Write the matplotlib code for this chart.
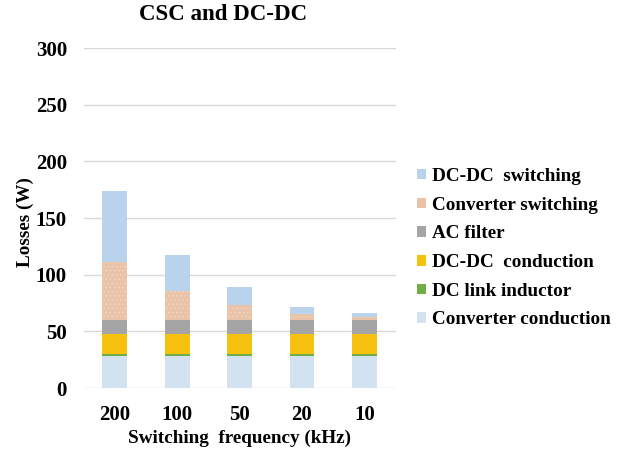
import matplotlib.pyplot as plt
from matplotlib.patches import Patch
import numpy as np

plt.rcParams['font.family'] = ['Liberation Serif', 'DejaVu Serif']
plt.rcParams['font.weight'] = 'bold'
plt.rcParams['hatch.linewidth'] = 0.6

frequencies = ['200', '100', '50', '20', '10']
converter_conduction = [28, 28, 28, 28, 28]
dc_link_inductor = [2, 2, 2, 2, 2]
dcdc_conduction = [18, 18, 18, 18, 18]
ac_filter = [12, 12, 12, 12, 12]
converter_switching = [51, 25.5, 13, 5.2, 2.6]
dcdc_switching = [63, 31.5, 16, 6.5, 3.3]

series = [
    ('Converter conduction', converter_conduction, '#d2e2f0', None),
    ('DC link inductor', dc_link_inductor, '#70ad47', None),
    ('DC-DC  conduction', dcdc_conduction, '#f7c10f', None),
    ('AC filter', ac_filter, '#a5a5a5', None),
    ('Converter switching', converter_switching, '#e8c3a8', '....'),
    ('DC-DC  switching', dcdc_switching, '#b9d3ec', None),
]

W, H = 623, 451
fig = plt.figure(figsize=(W / 100, H / 100), dpi=100)
ax = fig.add_axes([83.6 / W, 1 - 388 / H, 312 / W, 340 / H])

x = np.arange(len(frequencies))
bottom = np.zeros(len(frequencies))
for name, vals, color, hatch in series:
    vals = np.array(vals, dtype=float)
    if hatch:
        ax.bar(x, vals, 0.4, bottom=bottom, color=color, edgecolor='#f0d6c3',
               hatch=hatch, linewidth=0, zorder=3)
    else:
        ax.bar(x, vals, 0.4, bottom=bottom, color=color, linewidth=0, zorder=3)
    bottom += vals

ax.set_xlim(-0.5, len(frequencies) - 0.5)
ax.set_ylim(0, 300)
ax.set_yticks(np.arange(0, 301, 50))
ax.set_xticks(x)
ax.set_xticklabels(frequencies)
ax.grid(axis='y', color='#d9d9d9', linewidth=1, zorder=0)
for s in ax.spines.values():
    s.set_visible(False)
ax.tick_params(axis='both', length=0, labelsize=15)
ax.tick_params(axis='x', pad=12)
ax.tick_params(axis='y', pad=12)
for lbl in ax.get_xticklabels() + ax.get_yticklabels():
    lbl.set_fontweight('bold')

ax.set_xlabel('Switching  frequency (kHz)', fontsize=13.8, fontweight='bold')
ax.xaxis.set_label_coords(0.5, (388 - 438) / 340)
ax.xaxis.label.set_va('center')
ax.set_ylabel('Losses (W)', fontsize=13.8, fontweight='bold')
ax.yaxis.set_label_coords((25 - 83.6) / 312, (388 - 222) / 340)
ax.yaxis.label.set_va('center')

fig.text(223.5 / W, 1 - 15 / H, 'CSC and DC-DC', ha='center', va='center',
         fontsize=16.5, fontweight='bold')

handles = []
for name, vals, color, hatch in reversed(series):
    handles.append(Patch(facecolor=color, edgecolor='none', label=name))
leg = fig.legend(handles=handles, loc='upper left',
                 bbox_to_anchor=(417 / W, 1 - 168 / H),
                 frameon=False, fontsize=13.8, handlelength=0.47,
                 handleheight=0.47, handletextpad=0.3, labelspacing=0.61,
                 borderpad=0, borderaxespad=0)
for t in leg.get_texts():
    t.set_fontweight('bold')

fig.savefig('out.png', dpi=100)
